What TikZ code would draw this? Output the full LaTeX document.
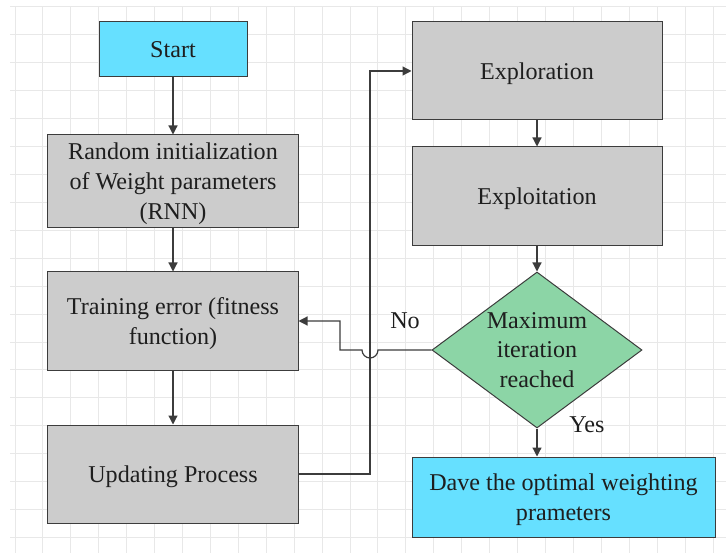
\documentclass[tikz,border=0pt]{standalone}
\usepackage{fontspec}
\newfontfamily\diagfont{Liberation Serif}
\usetikzlibrary{shapes.geometric,arrows.meta}
\definecolor{boxcyan}{HTML}{66E0FF}
\definecolor{boxgray}{HTML}{CCCCCC}
\definecolor{boxgreen}{HTML}{8CD5A6}
\definecolor{gridc}{HTML}{E8E8E8}
\definecolor{edgec}{HTML}{3C3C3C}
\definecolor{txt}{HTML}{1E1E1E}
\tikzset{
  base/.style={draw=edgec, line width=1bp, inner sep=0pt, align=center, text depth=0pt,
    text=txt, font=\diagfont\fontsize{24.2}{30}\selectfont},
  cyanbox/.style={base, fill=boxcyan, rectangle},
  graybox/.style={base, fill=boxgray, rectangle, minimum width=250bp, minimum height=98bp},
  decision/.style={base, fill=boxgreen, diamond, aspect=1.346, minimum width=210bp, minimum height=156bp},
  conn/.style={draw=edgec, line width=1.2bp, -{Triangle[length=9bp,width=9bp]}},
  lbl/.style={text=txt, font=\diagfont\fontsize{24.2}{30}\selectfont, inner sep=0pt},
}
\begin{document}
\begin{tikzpicture}[x=1bp,y=-1bp]
\useasboundingbox (0,0) rectangle (726,555);
% grid
\foreach \k in {0,...,25} \draw[gridc, line width=1bp] ({15+27.92*\k},7) -- ({15+27.92*\k},553);
\foreach \k in {0,...,19} \draw[gridc, line width=1bp] (10,{7+27.92*\k}) -- (726,{7+27.92*\k});

\node[cyanbox, minimum width=148bp, minimum height=55bp] (start) at (173,49.5) {Start};
\node[graybox, minimum height=93bp] (init) at (173,181.5) {Random initialization\\of Weight parameters\\(RNN)};
\node[graybox] (train) at (173,321) {Training error (fitness\\function)};
\node[graybox] (upd) at (173,474) {Updating Process};
\node[graybox] (explor) at (537,71) {Exploration};
\node[graybox] (exploit) at (537,196) {Exploitation};
\node[decision] (dia) at (537,350) {Maximum\\iteration\\reached};
\node[cyanbox, minimum width=303bp, minimum height=80bp] (save) at (563.5,497) {Dave the optimal weighting\\prameters};

\node[lbl] (no) at (405,321) {No};
\node[lbl] (yes) at (587,425) {Yes};

\coordinate (c1) at (370,474);
\coordinate (c2) at (370,71);
\coordinate (d1) at (340,350);
\coordinate (d2) at (340,321);

\draw[conn] (start) -- (init);
\draw[conn] (init) -- (train);
\draw[conn] (train) -- (upd);
\draw[conn] (upd.east) -- (c1) -- (c2) -- (explor.west);
\draw[conn] (explor) -- (exploit);
\draw[conn] (exploit) -- (dia.north);
\draw[conn] (dia.west) -- (378,350) arc[start angle=0, end angle=180, radius=8] -- (d1) -- (d2) -- (train.east);
\draw[conn] (dia.south) -- (dia.south |- save.north);
\end{tikzpicture}
\end{document}
